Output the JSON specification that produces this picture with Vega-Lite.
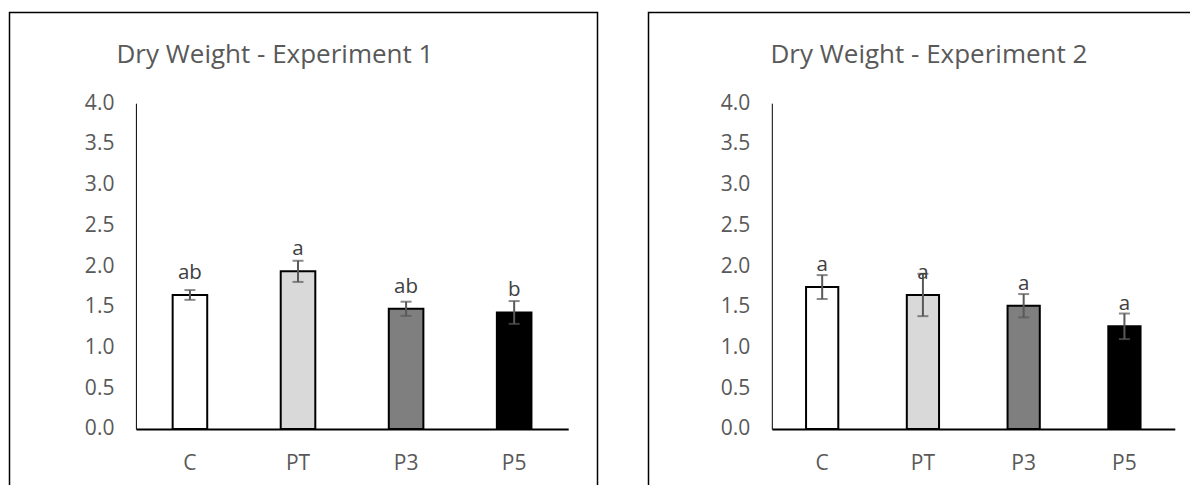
{
  "$schema": "https://vega.github.io/schema/vega-lite/v6.json",
  "padding": {"left": 8.5, "top": 11.5, "right": 0, "bottom": 0},
  "background": "white",
  "datasets": {
    "dw": [
      {"exp": 1, "treatment": "C", "mean": 1.645, "err": 0.06, "letter": "ab"},
      {"exp": 1, "treatment": "PT", "mean": 1.935, "err": 0.13, "letter": "a"},
      {"exp": 1, "treatment": "P3", "mean": 1.475, "err": 0.087, "letter": "ab"},
      {"exp": 1, "treatment": "P5", "mean": 1.43, "err": 0.14, "letter": "b"},
      {"exp": 2, "treatment": "C", "mean": 1.742, "err": 0.147, "letter": "a"},
      {"exp": 2, "treatment": "PT", "mean": 1.645, "err": 0.26, "letter": "a"},
      {"exp": 2, "treatment": "P3", "mean": 1.513, "err": 0.143, "letter": "a"},
      {"exp": 2, "treatment": "P5", "mean": 1.26, "err": 0.157, "letter": "a"}
    ]
  },
  "config": {
    "view": {"stroke": "#000", "strokeWidth": 1.5},
    "font": "Open Sans",
    "axis": {"grid": false, "ticks": false, "labelFont": "Open Sans", "labelFontSize": 21, "labelColor": "#595959", "title": null},
    "concat": {"spacing": 49}
  },
  "hconcat": [
    {
      "width": 588,
      "height": 475,
      "title": {"text": "Dry Weight - Experiment 1", "anchor": "start", "frame": "group", "dx": 107, "offset": -76, "baseline": "alphabetic", "fontSize": 26, "fontWeight": "normal", "color": "#595959", "font": "Open Sans"},
      "data": {"name": "dw"},
      "transform": [{"filter": "datum.exp === 1"}],
      "encoding": {
        "x": {"field": "treatment", "type": "nominal", "sort": ["C", "PT", "P3", "P5"], "title": null,
          "scale": {"range": [126.4, 558.7], "paddingInner": 0.68, "paddingOuter": 0.34},
          "axis": {"offset": -58.6, "domainColor": "#000", "domainWidth": 2, "labelPadding": 24, "labelAngle": 0}},
        "y": {"field": "mean", "type": "quantitative", "title": null,
          "scale": {"domain": [0, 4], "range": [416.4, 90.7], "nice": false, "zero": true},
          "axis": {"offset": -126.4, "title": null, "values": [0, 0.5, 1, 1.5, 2, 2.5, 3, 3.5, 4], "format": ".1f", "domainColor": "#000", "domainWidth": 1, "labelPadding": 22}}
      },
      "layer": [
        {
          "mark": {"type": "bar", "stroke": "#000", "strokeWidth": 2},
          "encoding": {"color": {"field": "treatment", "type": "nominal", "scale": {"domain": ["C", "PT", "P3", "P5"], "range": ["#ffffff", "#d9d9d9", "#7f7f7f", "#000000"]}, "legend": null}}
        },
        {
          "mark": {"type": "errorbar", "ticks": true, "color": "#595959", "thickness": 2, "size": 11},
          "encoding": {"yError": {"field": "err"}}
        },
        {
          "mark": {"type": "text", "dy": -16, "baseline": "alphabetic", "fontSize": 20.5, "color": "#404040", "font": "Open Sans"},
          "encoding": {"text": {"field": "letter"}}
        }
      ]
    },
    {
      "width": 546,
      "height": 475,
      "title": {"text": "Dry Weight - Experiment 2", "anchor": "start", "frame": "group", "dx": 122, "offset": -76, "baseline": "alphabetic", "fontSize": 26, "fontWeight": "normal", "color": "#595959", "font": "Open Sans"},
      "data": {"name": "dw"},
      "transform": [{"filter": "datum.exp === 2"}],
      "encoding": {
        "x": {"field": "treatment", "type": "nominal", "sort": ["C", "PT", "P3", "P5"], "title": null,
          "scale": {"range": [123.3, 526.3], "paddingInner": 0.68, "paddingOuter": 0.34},
          "axis": {"offset": -58.6, "domainColor": "#000", "domainWidth": 2, "labelPadding": 24, "labelAngle": 0}},
        "y": {"field": "mean", "type": "quantitative", "title": null,
          "scale": {"domain": [0, 4], "range": [416.4, 90.7], "nice": false, "zero": true},
          "axis": {"offset": -123.3, "title": null, "values": [0, 0.5, 1, 1.5, 2, 2.5, 3, 3.5, 4], "format": ".1f", "domainColor": "#000", "domainWidth": 1, "labelPadding": 22}}
      },
      "layer": [
        {
          "mark": {"type": "bar", "stroke": "#000", "strokeWidth": 2},
          "encoding": {"color": {"field": "treatment", "type": "nominal", "scale": {"domain": ["C", "PT", "P3", "P5"], "range": ["#ffffff", "#d9d9d9", "#7f7f7f", "#000000"]}, "legend": null}}
        },
        {
          "mark": {"type": "errorbar", "ticks": true, "color": "#595959", "thickness": 2, "size": 11},
          "encoding": {"yError": {"field": "err"}}
        },
        {
          "mark": {"type": "text", "dy": -16, "baseline": "alphabetic", "fontSize": 20.5, "color": "#404040", "font": "Open Sans"},
          "encoding": {"text": {"field": "letter"}}
        }
      ]
    }
  ]
}
